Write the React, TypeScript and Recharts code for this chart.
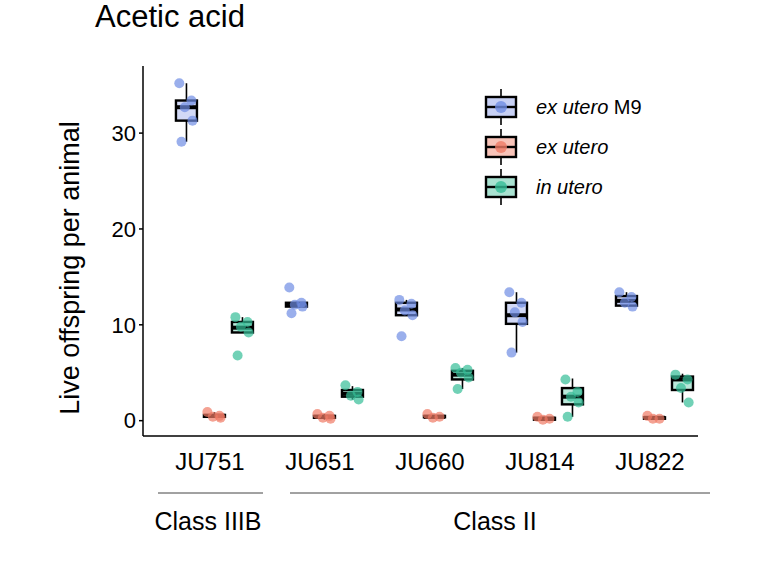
import React from 'react';
import { ComposedChart, Bar, Scatter, XAxis, YAxis } from 'recharts';

const strains = ['JU751', 'JU651', 'JU660', 'JU814', 'JU822'];
const seriesNames = ['ex utero M9', 'ex utero', 'in utero'];

// box stats per strain: [lower whisker, q1, median, q3, upper whisker]
const m9Box = [
  [29.1, 31.3, 32.7, 33.4, 35.2],
  [11.9, 11.9, 12.1, 12.3, 12.4],
  [11.0, 11.0, 11.6, 12.3, 12.6],
  [7.1, 10.1, 11.0, 12.3, 13.4],
  [11.9, 12.0, 12.5, 13.0, 13.4],
];
const exBox = [
  [0.3, 0.4, 0.5, 0.6, 0.9],
  [0.1, 0.3, 0.4, 0.5, 0.7],
  [0.3, 0.35, 0.4, 0.5, 0.5],
  [0.0, 0.1, 0.2, 0.3, 0.3],
  [0.1, 0.2, 0.3, 0.35, 0.4],
];
const inBox = [
  [9.2, 9.2, 9.7, 10.3, 10.8],
  [2.2, 2.5, 2.8, 3.2, 3.6],
  [3.3, 4.3, 4.8, 5.2, 5.5],
  [0.4, 1.7, 2.5, 3.4, 4.4],
  [1.9, 3.2, 4.3, 4.6, 4.9],
];

// individual animals
const m9Points = [
  [35.2, 33.4, 32.7, 31.3, 29.1],
  [13.9, 12.3, 12.1, 11.9, 11.2],
  [12.6, 12.2, 11.5, 11.0, 8.8],
  [13.4, 12.3, 11.3, 10.3, 7.1],
  [13.4, 12.9, 12.3, 11.9],
];
const exPoints = [
  [0.9, 0.5, 0.4, 0.3],
  [0.7, 0.5, 0.3, 0.2],
  [0.7, 0.4, 0.3],
  [0.4, 0.2, 0.1],
  [0.5, 0.2, 0.2],
];
const inPoints = [
  [10.8, 10.3, 9.8, 9.2, 6.8],
  [3.7, 3.0, 2.6, 2.2],
  [5.5, 5.3, 5.0, 4.5, 3.3],
  [4.3, 3.0, 2.5, 1.9, 0.4],
  [4.8, 4.3, 3.4, 1.9],
];

const yTicks = [0, 10, 20, 30];

const DOT = ['#6F8DE4', '#EF7A65', '#35BE97'];
const FILL = ['#C7D0F4', '#F8C3B8', '#A9E2D1'];
const OFFSETS = [-0.255, 0, 0.255];
const JITTER = [-0.06, 0.05, -0.01, 0.06, -0.04];
const FONT = '"Liberation Sans", Arial, sans-serif';
const X_DOMAIN: [number, number] = [-0.645, 4.4];

const points = [m9Points, exPoints, inPoints];

const barData = strains.map((name, i) => ({
  pos: i,
  name,
  s0: m9Box[i],
  s1: exBox[i],
  s2: inBox[i],
}));

const pointData = points.map((series, s) =>
  series.flatMap((vals, i) =>
    vals.map((v, j) => ({ pos: i + OFFSETS[s] + JITTER[j % JITTER.length], value: v }))
  )
);

const boxRange = (s: number) => (d: any) => {
  const st = d && d[`s${s}`];
  return st ? [st[1], st[3]] : null;
};

const BoxShape = (props: any) => {
  const { x, y, width, height, payload, sidx } = props;
  const st = payload && payload[`s${sidx}`];
  if (!st || x == null || y == null) return null;
  const [lo, q1, med, q3, hi] = st;
  const top = Math.min(y, y + height);
  const h = Math.abs(height);
  const k = h / (q3 - q1);
  const yOf = (v: number) => top + (q3 - v) * k;
  const cx = x + width / 2;
  return (
    <g>
      <line x1={cx} x2={cx} y1={yOf(hi)} y2={top} stroke="#000" strokeWidth={1.6} />
      <line x1={cx} x2={cx} y1={top + h} y2={yOf(lo)} stroke="#000" strokeWidth={1.6} />
      <rect x={x} y={top} width={width} height={h} fill={FILL[sidx]} fillOpacity={0.8} stroke="#000" strokeWidth={2.4} />
      <line x1={x} x2={x + width} y1={yOf(med)} y2={yOf(med)} stroke="#000" strokeWidth={4} />
    </g>
  );
};

const LegendBox = () => (
  <div style={{ position: 'absolute', left: 484, top: 87, fontFamily: FONT, fontSize: 20, color: '#000' }}>
    {seriesNames.map((n, s) => (
      <div key={n} style={{ display: 'flex', alignItems: 'center', height: 40 }}>
        <svg width={34} height={38} style={{ marginRight: 18 }}>
          <line x1={17} x2={17} y1={1} y2={37} stroke="#000" strokeWidth={1.6} />
          <rect x={2} y={9} width={30} height={20} fill={FILL[s]} stroke="#000" strokeWidth={2.4} />
          <line x1={2} x2={32} y1={19} y2={19} stroke="#000" strokeWidth={2.4} />
          <circle cx={17} cy={19} r={6} fill={DOT[s]} fillOpacity={0.8} />
        </svg>
        {s === 0 ? (
          <span><i>ex utero</i> M9</span>
        ) : (
          <i>{n}</i>
        )}
      </div>
    ))}
  </div>
);

export default function App() {
  return (
    <div style={{ position: 'absolute', left: 0, top: 0, width: 772, height: 579, background: '#fff' }}>
      <ComposedChart
        width={772}
        height={579}
        data={barData}
        margin={{ top: 66, right: 74, bottom: 103, left: 83 }}
        barGap={7}
      >
        <XAxis
          dataKey="pos"
          type="number"
          domain={X_DOMAIN}
          allowDataOverflow
          ticks={[0, 1, 2, 3, 4]}
          tickFormatter={(v: number) => strains[v] ?? ''}
          tickLine={false}
          tickSize={0}
          tickMargin={17}
          height={40}
          axisLine={{ stroke: '#000', strokeWidth: 1.5 }}
          tick={{ fill: '#000', fontSize: 24, fontFamily: FONT, dx: -4 }}
        />
        <XAxis xAxisId="box" dataKey="pos" type="number" domain={X_DOMAIN} allowDataOverflow ticks={[0, 1, 2, 3, 4]} hide />
        <YAxis
          type="number"
          domain={[-1.6, 37]}
          allowDataOverflow
          ticks={yTicks}
          width={60}
          tickSize={4}
          tickMargin={3}
          axisLine={{ stroke: '#000', strokeWidth: 1.5 }}
          tickLine={{ stroke: '#000', strokeWidth: 1.5 }}
          tick={{ fill: '#000', fontSize: 22, fontFamily: FONT }}
        />
        {[0, 1, 2].map((s) => (
          <Bar
            key={`b${s}`}
            xAxisId="box"
            name={seriesNames[s]}
            dataKey={boxRange(s)}
            barSize={21}
            isAnimationActive={false}
            shape={(p: any) => <BoxShape {...p} sidx={s} />}
          />
        ))}
        {[0, 1, 2].map((s) => (
          <Scatter
            key={`p${s}`}
            data={pointData[s]}
            dataKey="value"
            legendType="none"
            isAnimationActive={false}
            shape={(p: any) => <circle cx={p.cx} cy={p.cy} r={5} fill={DOT[s]} fillOpacity={0.7} />}
          />
        ))}
      </ComposedChart>
      <LegendBox />
      <svg
        width={772}
        height={579}
        style={{ position: 'absolute', left: 0, top: 0, pointerEvents: 'none' }}
        fontFamily={FONT}
      >
        <text x={95} y={27} fontSize={31} fill="#000">Acetic acid</text>
        <text x={70} y={268} fontSize={27} fill="#000" textAnchor="middle" dominantBaseline="central" transform="rotate(-90 70 268)">
          Live offspring per animal
        </text>
        <line x1={158} x2={263} y1={493} y2={493} stroke="#444" strokeWidth={1} />
        <line x1={290} x2={710} y1={493} y2={493} stroke="#444" strokeWidth={1} />
        <text x={208} y={530} fontSize={25} fill="#000" textAnchor="middle">Class IIIB</text>
        <text x={495} y={530} fontSize={25} fill="#000" textAnchor="middle">Class II</text>
      </svg>
    </div>
  );
}
